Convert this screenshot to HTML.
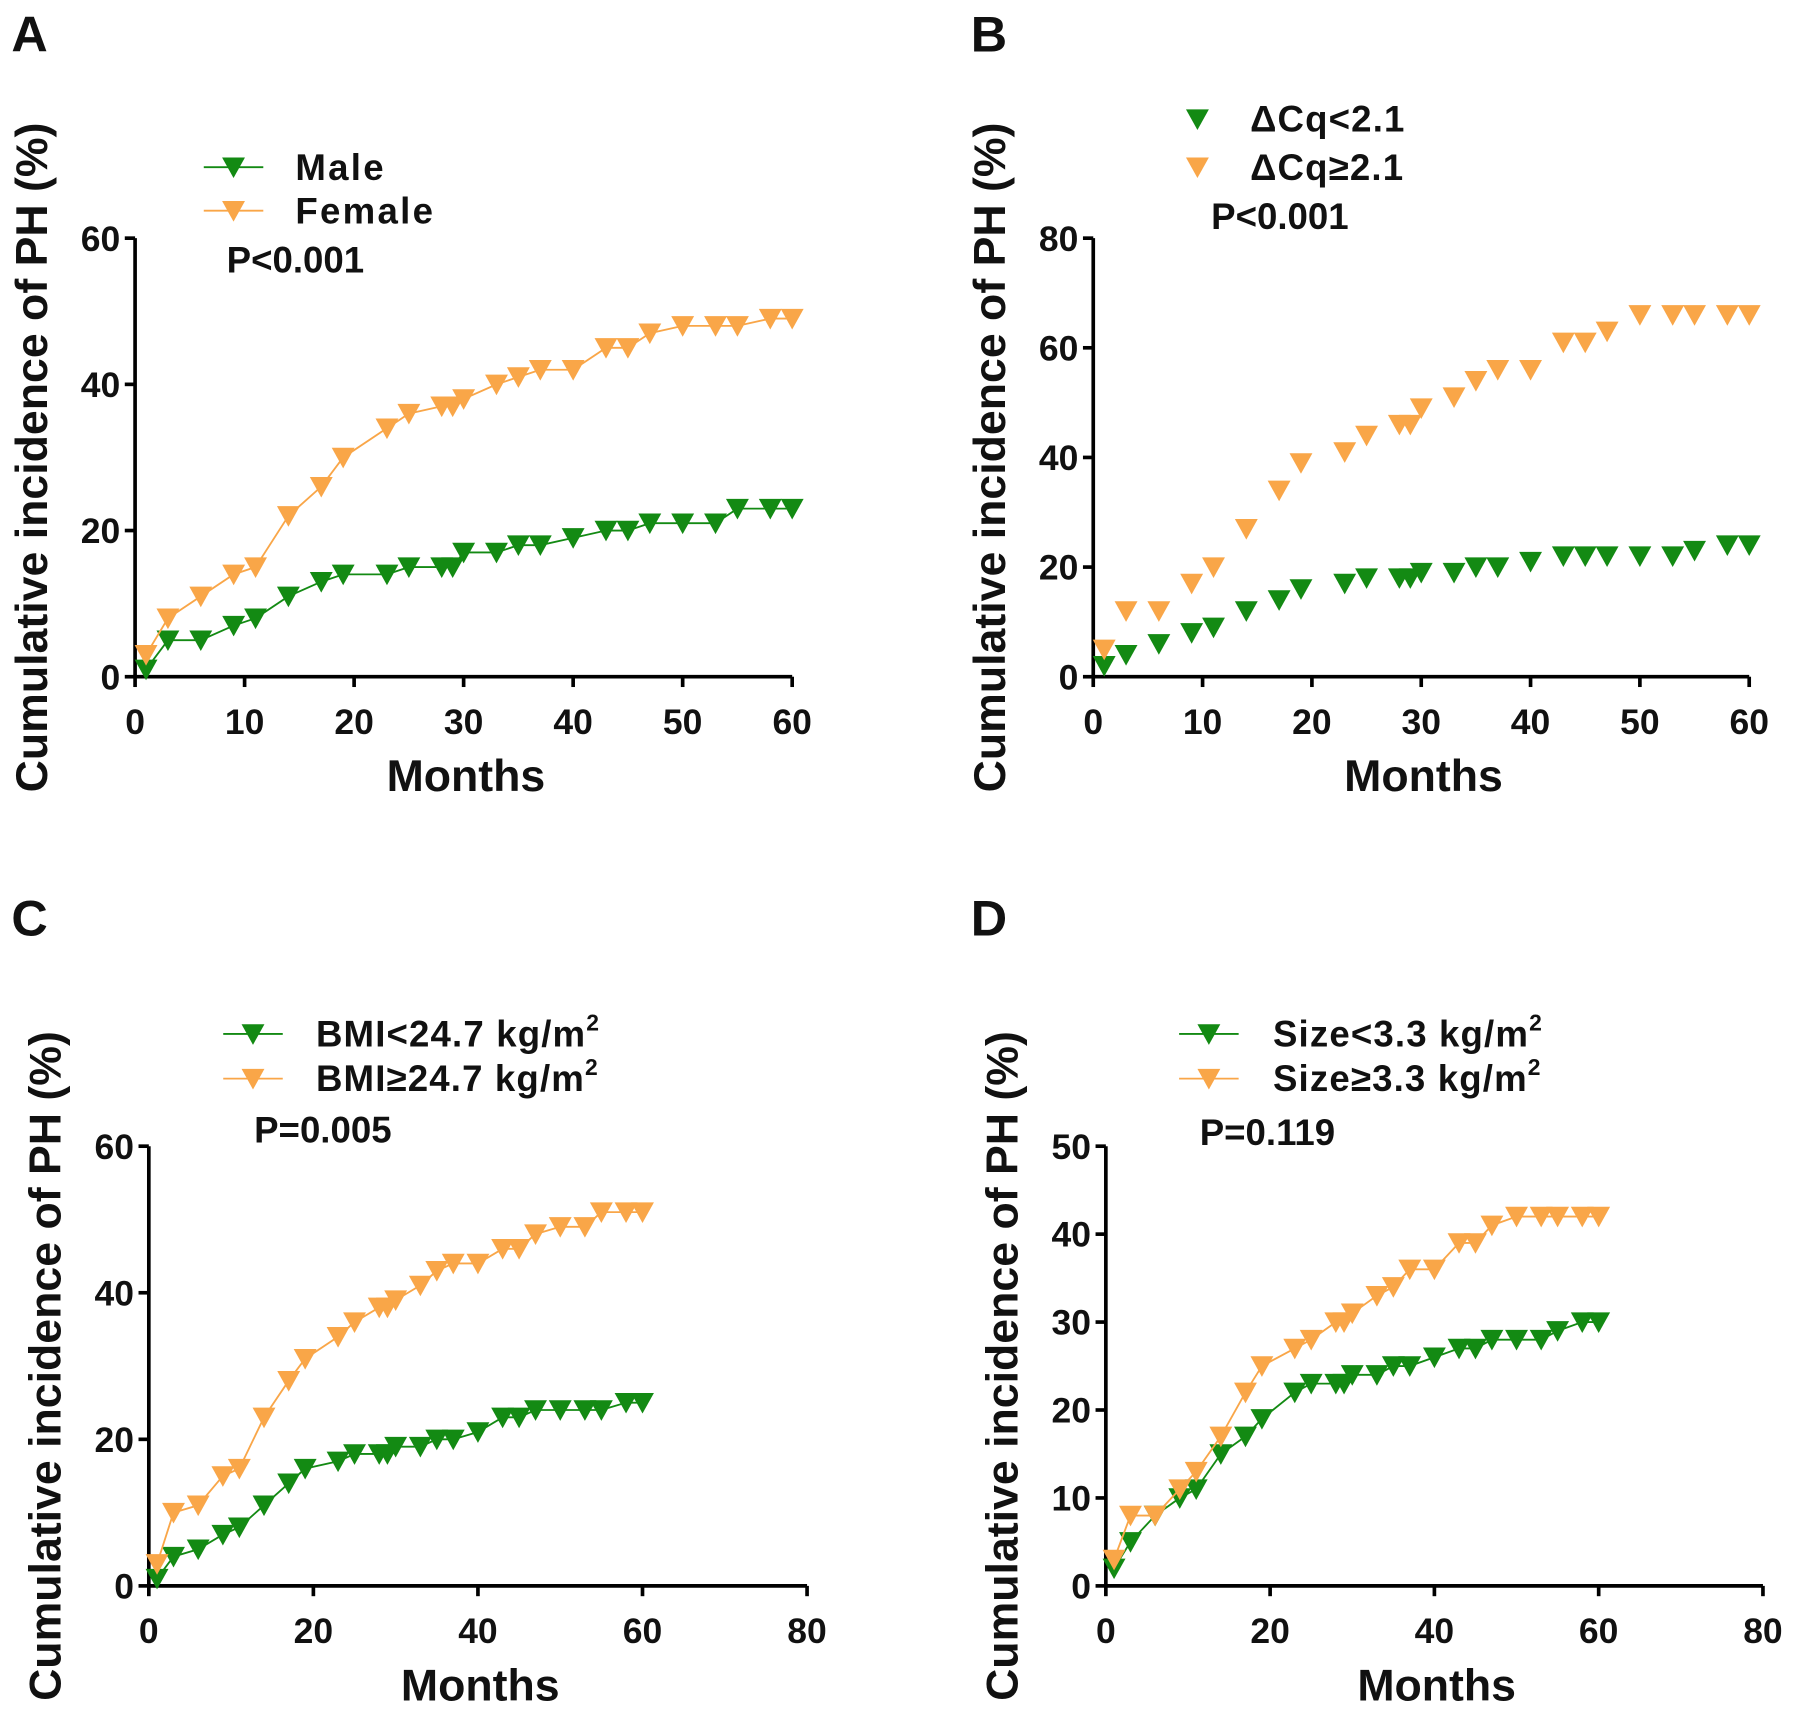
<!DOCTYPE html>
<html><head><meta charset="utf-8"><style>
html,body{margin:0;padding:0;background:#fff;}
svg{display:block;font-family:"Liberation Sans",Arial,sans-serif;font-weight:bold;}
</style></head><body>
<svg id="fig" width="1795" height="1721" viewBox="0 0 1568 1503" preserveAspectRatio="none" xmlns="http://www.w3.org/2000/svg"></svg>
<script>
const months = [1,3,6,9,11,14,17,19,23,25,28,29,30,33,35,37,40,43,45,47,50,53,55,58,60];
const aMale   = [1,5,5,7,8,11,13,14,14,15,15,15,17,17,18,18,19,20,20,21,21,21,23,23,23];
const aFemale = [3,8,11,14,15,22,26,30,34,36,37,37,38,40,41,42,42,45,45,47,48,48,48,49,49];
const bLow    = [2,4,6,8,9,12,14,16,17,18,18,18,19,19,20,20,21,22,22,22,22,22,23,24,24];
const bHigh   = [5,12,12,17,20,27,34,39,41,44,46,46,49,51,54,56,56,61,61,63,66,66,66,66,66];
const cLow    = [1,4,5,7,8,11,14,16,17,18,18,18,19,19,20,20,21,23,23,24,24,24,24,25,25];
const cHigh   = [3,10,11,15,16,23,28,31,34,36,38,38,39,41,43,44,44,46,46,48,49,49,51,51,51];
const dLow    = [2,5,8,10,11,15,17,19,22,23,23,23,24,24,25,25,26,27,27,28,28,28,29,30,30];
const dHigh   = [3,8,8,11,13,17,22,25,27,28,30,30,31,33,34,36,36,39,39,41,42,42,42,42,42];
const xTicksA = [0,10,20,30,40,50,60];
const xTicksC = [0,20,40,60,80];
const yTicks60 = [0,20,40,60];
const yTicks80 = [0,20,40,60,80];
const yTicks50 = [0,10,20,30,40,50];

const G='#138a13', O='#f9a648';
const NS='http://www.w3.org/2000/svg';
const svg=document.getElementById('fig');
function el(tag,attrs,parent){const e=document.createElementNS(NS,tag);for(const k in attrs)e.setAttribute(k,attrs[k]);(parent||svg).appendChild(e);return e;}
function tri(g,cx,cy,col,s){return el('path',{d:`M${cx-s} ${cy-s*0.85}L${cx+s} ${cy-s*0.85}L${cx} ${cy+s*0.95}Z`,fill:col},g);}

function panel(p){
  const g=el('g',{});
  
  
  const sx=v=>p.x0+(v-0)/(p.xmax)*(p.x1-p.x0);
  const sy=v=>p.y0-(v)/(p.ymax)*(p.y0-p.y1);
  const L=el('text',{x:p.lx,y:p.ly,'font-size':44,fill:'#111'},g);L.textContent=p.id;
  
  const ax=el('path',{d:`M${p.x0} ${p.y1}V${p.y0}H${p.x1}`,stroke:'#000','stroke-width':3.2,fill:'none'},g);
  
  p.yt.forEach(v=>{
    el('line',{x1:p.x0-9,x2:p.x0,y1:sy(v),y2:sy(v),stroke:'#000','stroke-width':3.2},g);
    const t=el('text',{x:p.x0-13,y:sy(v)+11,'font-size':31,'text-anchor':'end',fill:'#111'},g);t.textContent=v;
    
  });
  p.xt.forEach(v=>{
    el('line',{x1:sx(v),x2:sx(v),y1:p.y0,y2:p.y0+9,stroke:'#000','stroke-width':3.2},g);
    const t=el('text',{x:sx(v),y:p.y0+50,'font-size':31,'text-anchor':'middle',fill:'#111'},g);t.textContent=v;
    
  });
  const xt=el('text',{x:(p.x0+p.x1)/2+2,y:p.y0+100,'font-size':39,'text-anchor':'middle',fill:'#111'},g);xt.textContent='Months';
  
  const cy=(p.y0+p.y1)/2;
  const yt=el('text',{x:0,y:0,'font-size':39,'text-anchor':'middle',fill:'#111',transform:`translate(${p.x0-77},${cy}) rotate(-90)`},g);yt.textContent='Cumulative incidence of PH (%)';
  
  p.series.forEach((s,i)=>{
    const sg=el('g',{},g);
    
    
    if(p.lines){
      const pl=el('polyline',{points:months.map((m,k)=>sx(m)+','+sy(s.v[k])).join(' '),fill:'none',stroke:s.c,'stroke-width':1.6},sg);
      
    }
    months.forEach((m,k)=>{const t=tri(sg,sx(m),sy(s.v[k]),s.c,10);
      });
    const lg=el('g',{},g);
    
    const ly=p.legY[i];
    if(p.lines) el('line',{x1:p.legX,x2:p.legX+52,y1:ly,y2:ly,stroke:s.c,'stroke-width':1.6},lg);
    tri(lg,p.legX+26,ly,s.c,10);
    const tt=el('text',{x:p.legTX,y:ly+11,'font-size':32,fill:'#111','letter-spacing':p.ls||0},lg);
    tt.innerHTML=s.label;
  });
  const pt=el('text',{x:p.px,y:p.py,'font-size':32,fill:'#111'},g);pt.textContent=p.p;
  
}
const sup='<tspan font-size="20" dy="-14">2</tspan>';
panel({id:'A',lx:10,ly:45,x0:118,x1:692,y0:591,y1:208,xmax:60,ymax:60,xt:xTicksA,yt:yTicks60,lines:true,
  series:[{v:aMale,c:G,label:'Male'},{v:aFemale,c:O,label:'Female'}],legX:178,legY:[146,184],legTX:258,ls:2,p:'P<0.001',px:198,py:238});
panel({id:'B',lx:848,ly:45,x0:955,x1:1528,y0:591,y1:208,xmax:60,ymax:80,xt:xTicksA,yt:yTicks80,lines:false,
  series:[{v:bLow,c:G,label:'ΔCq&lt;2.1'},{v:bHigh,c:O,label:'ΔCq≥2.1'}],legX:1020,legY:[104,146],legTX:1092,ls:1,p:'P<0.001',px:1058,py:200});
panel({id:'C',lx:10,ly:817,x0:130,x1:705,y0:1385,y1:1001,xmax:80,ymax:60,xt:xTicksC,yt:yTicks60,lines:true,
  series:[{v:cLow,c:G,label:'BMI&lt;24.7 kg/m'+sup},{v:cHigh,c:O,label:'BMI≥24.7 kg/m'+sup}],legX:195,legY:[903,942],legTX:276,ls:1,p:'P=0.005',px:222,py:998});
panel({id:'D',lx:848,ly:817,x0:966,x1:1540,y0:1385,y1:1001,xmax:80,ymax:50,xt:xTicksC,yt:yTicks50,lines:true,
  series:[{v:dLow,c:G,label:'Size&lt;3.3 kg/m'+sup},{v:dHigh,c:O,label:'Size≥3.3 kg/m'+sup}],legX:1030,legY:[903,942],legTX:1112,ls:1,p:'P=0.119',px:1048,py:1000});
</script>
</body></html>
